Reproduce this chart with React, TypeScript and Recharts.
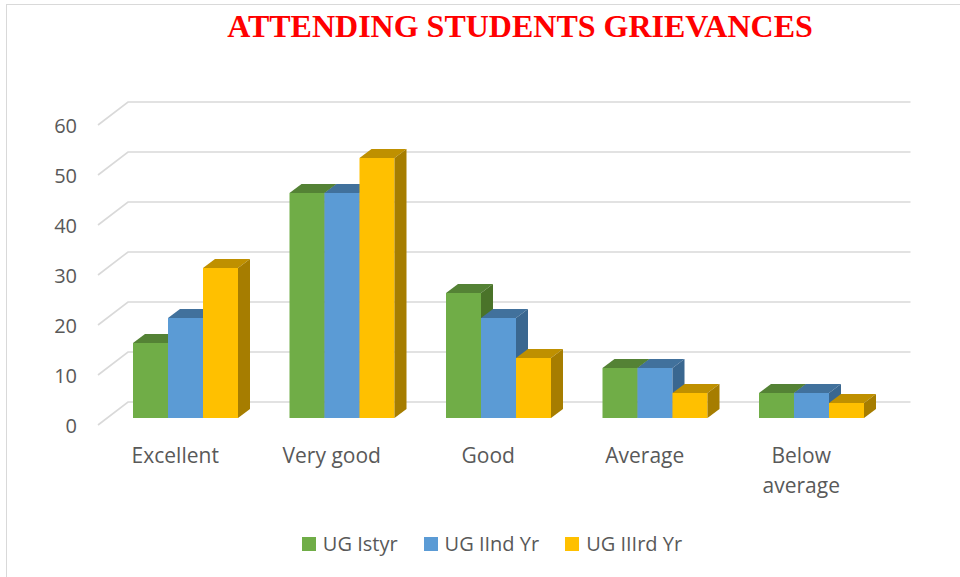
import { BarChart, Bar, XAxis, YAxis, CartesianGrid, Legend } from 'recharts';

const categories = ['Excellent', 'Very good', 'Good', 'Average', 'Below average'];
const ugFirst = [15, 45, 25, 10, 5];
const ugSecond = [20, 45, 20, 10, 5];
const ugThird = [30, 52, 12, 5, 3];
const yTicks = [0, 10, 20, 30, 40, 50, 60];

const series = [
  { key: 'first', name: 'UG Istyr', front: '#70AD47', top: '#548235', side: '#4A7329' },
  { key: 'second', name: 'UG IInd Yr', front: '#5B9BD5', top: '#41719C', side: '#3A6790' },
  { key: 'third', name: 'UG IIIrd Yr', front: '#FFC000', top: '#BF9000', side: '#A67D00' },
];

const data = categories.map((name, i) => ({
  name,
  first: ugFirst[i],
  second: ugSecond[i],
  third: ugThird[i],
}));

// bar depth and wall offsets (fake 3D)
const DX = 12;
const DY = 9;
const FONT = '"Open Sans", sans-serif';
const TEXT = '#595959';

const make3DBar = (s: typeof series[number]) => (props: any) => {
  const { x, y, width, height } = props;
  if (height == null || width == null) return <g />;
  const top = `${x},${y} ${x + width},${y} ${x + width + DX},${y - DY} ${x + DX},${y - DY}`;
  const side = `${x + width},${y} ${x + width + DX},${y - DY} ${x + width + DX},${y + height - DY} ${x + width},${y + height}`;
  return (
    <g>
      <rect x={x} y={y} width={width} height={height} fill={s.front} />
      <polygon points={top} fill={s.top} />
      <polygon points={side} fill={s.side} />
    </g>
  );
};

const gridLine = (p: any) => {
  const { x1, x2, y1 } = p;
  const pts = `${x1 - 9},${y1 + 7} ${x1 + 21},${y1 - 16} ${x2 + 21},${y1 - 16}`;
  return <polyline key={p.key} points={pts} fill="none" stroke="#d9d9d9" strokeWidth={1.6} />;
};

const YTick = (props: any) => {
  const { x, y, payload } = props;
  return (
    <text x={x} y={y + 7} textAnchor="end" dominantBaseline="central" fill={TEXT} fontSize={20} fontFamily={FONT}>
      {payload.value}
    </text>
  );
};

const XTick = (props: any) => {
  const { x, y, payload } = props;
  const label: string = payload.value;
  const lines = label.length > 10 ? label.split(' ') : [label];
  return (
    <text x={x - 10} y={y} textAnchor="middle" fill={TEXT} fontSize={21} fontFamily={FONT}>
      {lines.map((l, i) => (
        <tspan key={i} x={x - 10} dy={i === 0 ? 29 : 30} dominantBaseline="central">
          {l}
        </tspan>
      ))}
    </text>
  );
};

const LegendContent = () => (
  <div style={{ display: 'flex', justifyContent: 'center', alignItems: 'center', gap: 26, fontFamily: FONT, fontSize: 20, color: TEXT }}>
    {series.map((s) => (
      <div key={s.key} style={{ display: 'flex', alignItems: 'center' }}>
        <span style={{ display: 'inline-block', width: 14, height: 14, background: s.front, marginRight: 7 }} />
        <span>{s.name}</span>
      </div>
    ))}
  </div>
);

export default function App() {
  return (
    <div style={{ position: 'absolute', left: 0, top: 0, width: 960, height: 577, overflow: 'hidden', background: '#fff' }}>
      <div style={{ position: 'absolute', left: 6, top: 4, width: 1000, height: 620, border: '1.5px solid #d9d9d9' }} />
      <div
        style={{
          position: 'absolute',
          left: 0,
          width: 1040,
          top: 8,
          textAlign: 'center',
          fontFamily: '"Liberation Serif", "Times New Roman", serif',
          fontWeight: 'bold',
          fontSize: 32,
          color: '#FF0000',
        }}
      >
        ATTENDING STUDENTS GRIEVANCES
      </div>
      <div style={{ position: 'absolute', left: 0, top: 0 }}>
        <BarChart
          width={960}
          height={577}
          data={data}
          margin={{ top: 118, right: 70.5, bottom: 99, left: 0 }}
          barSize={35}
          barGap={0}
        >
          <CartesianGrid vertical={false} horizontal={gridLine} />
          <XAxis dataKey="name" axisLine={false} tickLine={false} height={60} tick={<XTick />} interval={0} />
          <YAxis
            width={107}
            domain={[0, 60]}
            ticks={yTicks}
            axisLine={false}
            tickLine={false}
            tickSize={0}
            tickMargin={30}
            tick={<YTick />}
          />
          <Legend
            verticalAlign="middle"
            align="center"
            content={<LegendContent />}
            wrapperStyle={{ top: 530, left: 12, width: 960 }}
          />
          {series.map((s) => (
            <Bar key={s.key} dataKey={s.key} name={s.name} fill={s.front} shape={make3DBar(s)} isAnimationActive={false} />
          ))}
        </BarChart>
      </div>
    </div>
  );
}
